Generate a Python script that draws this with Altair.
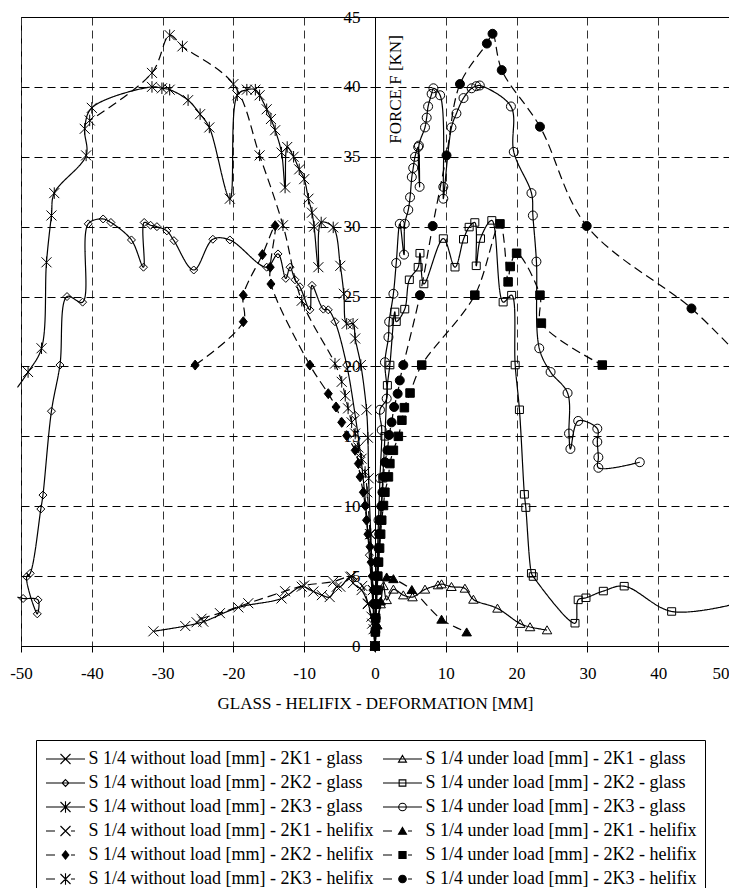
import altair as alt
import pandas as pd

# ---------------- data ----------------
names = [
    "S 1/4 without load [mm] - 2K1 - glass",
    "S 1/4 without load [mm] - 2K2 - glass",
    "S 1/4 without load [mm] - 2K3 - glass",
    "S 1/4 without load [mm] - 2K1 - helifix",
    "S 1/4 without load [mm] - 2K2 - helifix",
    "S 1/4 without load [mm] - 2K3 - helifix",
    "S 1/4 under load [mm] - 2K1 - glass",
    "S 1/4 under load [mm] - 2K2 - glass",
    "S 1/4 under load [mm] - 2K3 - glass",
    "S 1/4 under load [mm] - 2K1 - helifix",
    "S 1/4 under load [mm] - 2K2 - helifix",
    "S 1/4 under load [mm] - 2K3 - helifix",
]

s1_x = [0, -0.2, -0.5, -1.0, -1.9, -3.1, -3.5, -4.9, -5.4, -6.4, -7.5, -8.7, -10.35, -13.2, -19.3, -24.25, -26.8, -31.3]
s1_y = [0, 1.2, 2.1, 3.05, 4.0, 4.5, 4.95, 4.24, 4.24, 3.5, 3.64, 3.9, 4.24, 3.4, 2.76, 1.74, 1.43, 1.05]

s2_x = [0, -0.3, -0.8, -1.3, -2.0, -2.8, -4.0, -5.65, -6.6, -7.3, -8.9, -9.2, -10.6, -11.3, -12.0, -12.6,
        -13.7, -15.3, -20.5, -22.9, -25.6, -28.4, -29.4, -30.8, -31.7, -32.6, -32.7, -34.4, -37.3, -38.4,
        -40.5, -41.3, -43.5, -44.5, -45.7, -46.9, -47.2, -48.7, -49.2, -47.7, -47.6, -49.7, -50.5]
s2_y = [0, 3.0, 6.5, 10.0, 13.5, 16.5, 20.1, 23.2, 24.05, 24.1, 25.8, 24.05, 25.7, 26.2, 27.1, 26.3,
        28.05, 27.1, 29.05, 29.1, 26.9, 29.0, 29.7, 30.0, 30.1, 30.3, 27.1, 29.05, 30.3, 30.55,
        30.2, 24.6, 25.0, 20.1, 16.8, 10.8, 9.8, 5.2, 4.95, 2.3, 3.3, 3.4, 3.5]

s3_x = [0, -0.3, -0.6, -0.9, -1.0, -1.2, -2.0, -2.8, -3.1, -4.0, -4.4, -4.9, -5.9, -7.6, -8.0, -8.6, -8.9,
        -9.4, -10.0, -10.7, -11.5, -12.4, -12.7, -13.2, -14.1, -14.7, -15.3, -16.3, -16.9, -18.1, -19.45,
        -20.5, -23.4, -24.7, -26.4, -29.0, -30.1, -31.5, -40.0, -41.0, -40.8, -45.3, -45.7, -46.4, -47.1,
        -49.0, -50.5]
s3_y = [0, 4.0, 8.0, 12.0, 14.9, 16.9, 20.1, 22.0, 23.05, 23.05, 25.2, 27.2, 29.95, 30.3, 27.1, 30.0, 31.0,
        32.0, 33.4, 34.1, 35.0, 35.7, 32.8, 35.3, 36.9, 37.7, 38.4, 39.4, 39.8, 39.8, 39.4,
        32.0, 37.1, 38.05, 39.05, 39.8, 39.9, 40.0, 38.5, 37.0, 35.1, 32.4, 30.8, 27.45, 21.3,
        19.6, 18.5]

s4_x = [0, -0.4, -1.0, -1.8, -3.3, -5.9, -10.0, -12.7, -17.9, -21.9, -24.5, -25.2]
s4_y = [0, 1.6, 3.0, 4.3, 4.97, 4.6, 4.33, 3.92, 3.06, 2.35, 1.95, 1.7]

s5_x = [0, -0.05, -0.1, -0.2, -0.3, -0.4, -0.55, -0.7, -1.0, -1.2, -1.4, -1.65, -2.1, -2.35, -2.8, -4.0,
        -4.7, -5.5, -6.6, -9.2, -14.7, -14.8, -14.1, -15.9, -18.6, -18.6, -25.4]
s5_y = [0, 1, 2, 3, 4, 5, 6, 7.1, 8.0, 9.0, 10.05, 11.0, 12.1, 13.05, 14.0, 15.05,
        16.0, 17.1, 18.05, 20.1, 25.9, 27.1, 30.07, 28.0, 25.1, 23.2, 20.1]

s6_x = [0, -0.3, -0.7, -1.1, -1.4, -1.9, -2.35, -2.8, -3.3, -3.8, -4.2, -4.7, -5.65, -10.35, -13.0, -16.3,
        -20.0, -27.2, -29.0, -31.5, -40.3]
s6_y = [0, 4, 8, 11, 12.45, 13.4, 14.2, 15.2, 16.0, 17.0, 17.9, 18.9, 20.2, 24.7, 30.1, 35.1,
        40.2, 42.9, 43.7, 41.0, 37.6]

s7_x = [0, 0.3, 0.8, 1.2, 1.65, 2.6, 4.0, 5.3, 7.06, 8.9, 9.4, 10.8, 12.7, 13.9, 17.3, 20.5, 21.9, 24.3]
s7_y = [0, 1.5, 3.0, 4.3, 3.3, 4.05, 3.64, 3.5, 4.05, 4.36, 4.43, 4.24, 4.12, 3.33, 2.69, 1.6, 1.36, 1.14]

s8_x = [0, 0.2, 0.5, 0.8, 1.1, 1.4, 1.75, 2.1, 2.8, 3.0, 4.2, 4.85, 6.1, 6.35, 6.9, 9.65, 11.3, 12.5, 13.3,
        14.1, 14.3, 14.9, 16.5, 18.1, 19.3, 19.8, 20.4, 21.1, 21.3, 22.1, 22.35, 28.25, 28.7, 29.8, 32.25,
        35.2, 41.9, 50.8]
s8_y = [0, 3, 6, 9, 12, 15, 18.65, 20.1, 23.9, 23.2, 24.1, 26.2, 27.1, 28.1, 25.9, 29.15, 27.1, 29.1, 29.97,
        30.3, 27.2, 29.15, 30.45, 24.6, 25.1, 20.1, 16.9, 10.85, 9.9, 5.2, 4.97, 1.63, 3.3, 3.45, 3.93,
        4.28, 2.47, 3.0]

s9_x = [0, 0.1, 0.3, 0.5, 0.7, 0.95, 0.7, 1.65, 1.4, 1.9, 2.0, 2.6, 3.0, 3.5, 4.1, 4.2, 4.7, 4.95, 5.2, 5.4,
        5.65, 6.1, 6.3, 6.2, 7.06, 7.3, 7.5, 8.0, 8.25, 9.2, 9.65, 9.65, 10.8, 11.5, 12.5, 13.65, 14.3, 14.8,
        19.2, 19.6, 22.1, 22.3, 22.8, 23.2, 24.8, 27.2, 27.4, 27.6, 28.7, 31.4, 31.4, 31.55, 31.55, 37.4]
s9_y = [0, 3, 6, 9, 12, 15.45, 16.9, 17.7, 20.3, 22.1, 23.2, 25.2, 27.4, 30.2, 28.0, 30.2, 31.2, 32.1, 33.55, 34.2,
        35.0, 35.7, 32.85, 35.8, 37.1, 37.8, 38.6, 39.5, 39.9, 39.4, 32.85, 32.0, 37.1, 38.1, 39.2, 39.9, 40.05, 40.1,
        38.6, 35.35, 32.4, 30.8, 27.5, 21.3, 19.6, 18.1, 15.2, 14.1, 16.1, 15.55, 14.6, 13.5, 12.75, 13.15]

s10_x = [0, 0.3, 0.8, 1.65, 2.6, 5.2, 9.4, 12.95]
s10_y = [0, 1.5, 3.2, 4.92, 4.8, 4.02, 1.9, 0.99]

s11_x = [0, 0.05, 0.1, 0.2, 0.3, 0.4, 0.5, 0.65, 0.8, 0.95, 1.2, 1.4, 1.9, 2.1, 2.6, 3.3, 3.8, 4.15, 4.95,
         6.6, 14.1, 17.65, 18.8, 19.1, 20.0, 23.3, 23.5, 32.1]
s11_y = [0, 1, 2, 3, 4, 5, 6, 7, 8, 9, 10.05, 11.0, 12.1, 13.05, 14.0, 15.0, 16.15, 17.05, 18.1,
         20.1, 25.1, 30.2, 26.05, 27.15, 28.1, 25.1, 23.1, 20.1]

s12_x = [0, 0.05, 0.1, 0.15, 0.2, 0.3, 0.4, 0.5, 0.6, 0.75, 0.9, 1.05, 1.2, 1.4, 1.75, 2.0, 2.35, 2.7, 3.2,
         3.5, 4.0, 6.35, 8.15, 10.1, 12.0, 15.8, 16.6, 17.9, 23.3, 29.9, 44.7, 50.6]
s12_y = [0, 1, 2, 3, 4, 5, 6, 7, 8, 9, 10, 11, 12.1, 13.15, 14.0, 15.1, 16.0, 17.1, 18.05,
         19.0, 20.1, 25.1, 30.05, 35.1, 40.2, 43.1, 43.8, 41.2, 37.15, 30.05, 24.15, 21.2]

# series whose last point is only the line running out past the frame (no marker)
runs_out = [names[1], names[2], names[7], names[11]]

x_ticks = list(range(-50, 51, 10))
y_ticks = list(range(0, 46, 5))

xs = [s1_x, s2_x, s3_x, s4_x, s5_x, s6_x, s7_x, s8_x, s9_x, s10_x, s11_x, s12_x]
ys = [s1_y, s2_y, s3_y, s4_y, s5_y, s6_y, s7_y, s8_y, s9_y, s10_y, s11_y, s12_y]

rows = []
for name, sx, sy in zip(names, xs, ys):
    n = len(sx)
    for i, (a, b) in enumerate(zip(sx, sy)):
        mark = 0 if (name in runs_out and i == n - 1) else 1
        rows.append({"series": name, "x": a, "y": b, "i": i, "m": mark})
df = pd.DataFrame(rows)

# ---------------- styles ----------------
def xpath(k):
    return f"M{-k:.3f},{-k:.3f}L{k:.3f},{k:.3f}M{-k:.3f},{k:.3f}L{k:.3f},{-k:.3f}"

def astpath(k):
    return xpath(k) + f"M0,{-1.15 * k:.3f}L0,{1.15 * k:.3f}"

def poly(pts, k):
    return "M" + "L".join(f"{px * k:.3f},{py * k:.3f}" for px, py in pts) + "Z"

def circ(r):
    return f"M{-r:.3f},0A{r:.3f},{r:.3f},0,1,1,{r:.3f},0A{r:.3f},{r:.3f},0,1,1,{-r:.3f},0Z"

DIA_O = [(0, -0.8), (0.8, 0), (0, 0.8), (-0.8, 0)]
DIA_F = [(0, -1.0), (0.8, 0), (0, 1.0), (-0.8, 0)]
TRI = [(0, -0.85), (0.95, 0.75), (-0.95, 0.75)]
SQ_O = [(-0.8, -0.75), (0.8, -0.75), (0.8, 0.75), (-0.8, 0.75)]
SQ_F = [(-0.85, -0.85), (0.85, -0.85), (0.85, 0.85), (-0.85, 0.85)]

def marker(idx, k):
    table = {
        0: xpath(k), 1: poly(DIA_O, k), 2: astpath(k),
        3: xpath(k), 4: poly(DIA_F, k), 5: astpath(k),
        6: poly(TRI, k), 7: poly(SQ_O, k), 8: circ(0.9 * k),
        9: poly(TRI, k), 10: poly(SQ_F, k), 11: circ(0.9 * k),
    }
    return table[idx]

is_dashed = [False, False, False, True, True, True, False, False, False, True, True, True]
is_filled = [False, False, False, False, True, False, False, False, False, True, True, True]

chart_shapes = [marker(i, 1.0) for i in range(12)]
legend_shapes = []
for i in range(12):
    line = "M-1.95,0L-1.05,0M0.55,0L0.95,0" if is_dashed[i] else "M-1.95,0L1.95,0"
    k = 0.5 if i in (0, 2, 3, 5) else 0.42
    legend_shapes.append(line + marker(i, k))
fills = ["black" if f else "transparent" for f in is_filled]
dashes = [[9, 5] if d else [1, 0] for d in is_dashed]
widths = [1.5 if d else 1.2 for d in is_dashed]

dom = names  # legend fills column by column

FONT = "Liberation Serif, Times New Roman, serif"

xenc = alt.X("x:Q", scale=alt.Scale(domain=[-50, 50], nice=False, zero=False),
             axis=alt.Axis(values=x_ticks, grid=True, gridDash=[8, 5],
                           gridColor="#333333", gridWidth=1, tickSize=6, tickColor="black",
                           domainColor="black", labelPadding=13, labelFont=FONT, labelFontSize=17,
                           labelColor="black", title="GLASS - HELIFIX - DEFORMATION [MM]",
                           titleFont=FONT, titleFontSize=17, titleFontWeight="normal",
                           titleColor="black", titlePadding=14, labelFlush=False,
                           labelExpr="toString(datum.value)",
                           labelAlign={"condition": {"test": "datum.value >= 50", "value": "right"},
                                       "value": "center"}))
yenc = alt.Y("y:Q", scale=alt.Scale(domain=[0, 45], nice=False, zero=True),
             axis=alt.Axis(values=y_ticks, offset=-354, grid=True, gridDash=[8, 5],
                           gridColor="black", gridWidth=1, tickSize=5, tickColor="black",
                           domainColor="black", labelPadding=10, labelFont=FONT, labelFontSize=17,
                           labelColor="black", title="FORCE F [KN]", titleFont=FONT,
                           titleFontSize=17, titleFontWeight="normal", titleColor="black",
                           titleAngle=270, titleX=20, titleY=72, titleAlign="center",
                           titleBaseline="middle", labelFlush=False))
# second set of ticks on the other side of the zero line (cross-type ticks)
yticks_right = alt.Y("y:Q", axis=alt.Axis(orient="right", values=y_ticks, offset=-354, grid=False,
                                          labels=False, domain=False, tickSize=5,
                                          tickColor="black", title=None))

base = alt.Chart(df)

lines = base.mark_line(interpolate="catmull-rom", color="black").encode(
    x=xenc, y=yenc,
    detail="series:N",
    order="i:Q",
    strokeDash=alt.StrokeDash("series:N", scale=alt.Scale(domain=dom, range=dashes), legend=None),
    strokeWidth=alt.StrokeWidth("series:N", scale=alt.Scale(domain=dom, range=widths), legend=None),
)

points = base.transform_filter(alt.datum.m == 1).mark_point(
    filled=False, stroke="black", strokeWidth=1, size=100, opacity=1
).encode(
    x="x:Q", y=yticks_right,
    shape=alt.Shape("series:N", scale=alt.Scale(domain=dom, range=chart_shapes), legend=None),
    fill=alt.Fill("series:N", scale=alt.Scale(domain=dom, range=fills), legend=None),
)

leg = alt.Legend(orient="none", legendX=15, legendY=723, columns=2, columnPadding=6, rowPadding=4,
                 padding=8, strokeColor="black", fillColor="white", title=None,
                 labelFont=FONT, labelFontSize=18, labelColor="black", labelLimit=0,
                 symbolSize=400, symbolStrokeWidth=1.1, symbolStrokeColor="black", symbolOpacity=1,
                 symbolOffset=10.5, labelOffset=12)

legend_layer = base.transform_filter(alt.datum.i == 0).mark_point(
    filled=False, size=400, opacity=0
).encode(
    x="x:Q", y=yticks_right,
    shape=alt.Shape("series:N", scale=alt.Scale(domain=dom, range=legend_shapes), legend=leg),
    fill=alt.Fill("series:N", scale=alt.Scale(domain=dom, range=fills), legend=leg),
    stroke=alt.Stroke("series:N", scale=alt.Scale(domain=dom, range=["black"] * 12), legend=leg),
)

chart = alt.layer(lines, points, legend_layer).resolve_scale(
    shape="independent", fill="independent", stroke="independent"
).resolve_axis(y="independent").properties(
    width=708, height=629,
    autosize=alt.AutoSizeParams(type="none"),
    padding={"left": 13, "top": 9, "right": 0, "bottom": 242},
    background="white",
).configure_view(stroke="black", strokeWidth=1)

chart.save("out.html", embed_options={"renderer": "svg", "actions": False})
